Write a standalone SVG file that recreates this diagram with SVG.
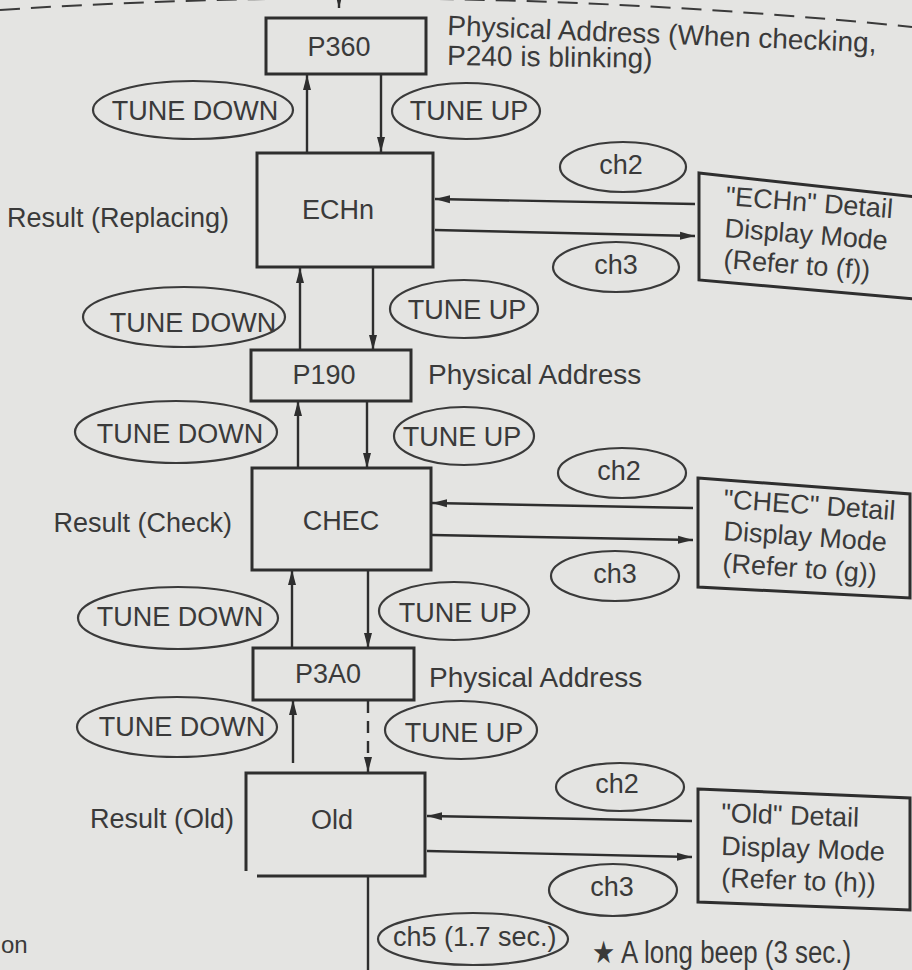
<svg xmlns="http://www.w3.org/2000/svg" width="912" height="970" viewBox="0 0 912 970">
<style>
  .bg{fill:#e4e4e2}
  .box{fill:none;stroke:#2e2e2e;stroke-width:3}
  .ell{fill:none;stroke:#3a3a3a;stroke-width:2.2}
  .ln{fill:none;stroke:#2e2e2e;stroke-width:2.4}
  .t{font-family:"Liberation Sans",Arial,Helvetica,sans-serif;font-size:27px;fill:#3a3a3a}
  .c{text-anchor:middle}
  .e{text-anchor:end}
</style>
<defs>
  <marker id="ah" markerUnits="userSpaceOnUse" markerWidth="16" markerHeight="10" refX="15" refY="5" orient="auto">
    <path d="M0,1 L15,5 L0,9 z" fill="#2e2e2e"/>
  </marker>
</defs>
<rect class="bg" x="0" y="0" width="912" height="970"/>

<!-- top dashed boundary -->
<path d="M0,10 Q450,-20 912,27" fill="none" stroke="#3a3a3a" stroke-width="2" stroke-dasharray="20,11"/>

<g id="connectors">
  <line class="ln" x1="339" y1="-5" x2="339" y2="8" marker-end="url(#ah)"/>
  <!-- P360 / ECHn -->
  <line class="ln" x1="307" y1="153" x2="307" y2="75" marker-end="url(#ah)"/>
  <line class="ln" x1="381" y1="74" x2="381" y2="152" marker-end="url(#ah)"/>
  <!-- ECHn / P190 -->
  <line class="ln" x1="300" y1="350" x2="300" y2="268" marker-end="url(#ah)"/>
  <line class="ln" x1="373" y1="268" x2="373" y2="350" marker-end="url(#ah)"/>
  <!-- P190 / CHEC -->
  <line class="ln" x1="298" y1="468" x2="298" y2="401" marker-end="url(#ah)"/>
  <line class="ln" x1="367" y1="401" x2="367" y2="468" marker-end="url(#ah)"/>
  <!-- CHEC / P3A0 -->
  <line class="ln" x1="292" y1="648" x2="292" y2="570" marker-end="url(#ah)"/>
  <line class="ln" x1="368" y1="570" x2="368" y2="648" marker-end="url(#ah)"/>
  <!-- P3A0 / Old -->
  <line class="ln" x1="293" y1="763" x2="293" y2="700" marker-end="url(#ah)"/>
  <line class="ln" x1="368" y1="701" x2="368" y2="772" stroke-dasharray="12,8" marker-end="url(#ah)"/>
  <!-- Old down -->
  <line class="ln" x1="368" y1="876" x2="368" y2="970"/>
  <!-- detail connectors -->
  <line class="ln" x1="695" y1="204" x2="435" y2="199" marker-end="url(#ah)"/>
  <line class="ln" x1="435" y1="230" x2="695" y2="236" marker-end="url(#ah)"/>
  <line class="ln" x1="693" y1="508" x2="432" y2="503" marker-end="url(#ah)"/>
  <line class="ln" x1="432" y1="535" x2="693" y2="540" marker-end="url(#ah)"/>
  <line class="ln" x1="692" y1="821" x2="427" y2="816" marker-end="url(#ah)"/>
  <line class="ln" x1="427" y1="851" x2="692" y2="857" marker-end="url(#ah)"/>
</g>

<g id="edge-labels">
  <ellipse class="ell" cx="193" cy="110" rx="100" ry="29"/>
  <text class="t c" x="195" y="120">TUNE DOWN</text>
  <ellipse class="ell" cx="466" cy="111" rx="74" ry="28"/>
  <text class="t c" x="469" y="120">TUNE UP</text>

  <ellipse class="ell" cx="623" cy="167" rx="63" ry="25"/>
  <text class="t c" x="621" y="174">ch2</text>
  <ellipse class="ell" cx="616" cy="267" rx="63" ry="25"/>
  <text class="t c" x="616" y="274">ch3</text>

  <ellipse class="ell" cx="184" cy="317" rx="101" ry="30"/>
  <text class="t c" x="193" y="332">TUNE DOWN</text>
  <ellipse class="ell" cx="464" cy="309" rx="74" ry="29"/>
  <text class="t c" x="467" y="319">TUNE UP</text>

  <ellipse class="ell" cx="176" cy="432" rx="101" ry="31"/>
  <text class="t c" x="180" y="443">TUNE DOWN</text>
  <ellipse class="ell" cx="464" cy="436" rx="70" ry="29"/>
  <text class="t c" x="462" y="446">TUNE UP</text>

  <ellipse class="ell" cx="622" cy="473" rx="64" ry="25"/>
  <text class="t c" x="619" y="480">ch2</text>
  <ellipse class="ell" cx="615" cy="576" rx="64" ry="25"/>
  <text class="t c" x="615" y="583">ch3</text>

  <ellipse class="ell" cx="178" cy="618" rx="100" ry="31"/>
  <text class="t c" x="180" y="626">TUNE DOWN</text>
  <ellipse class="ell" cx="454" cy="611" rx="75" ry="29"/>
  <text class="t c" x="458" y="622">TUNE UP</text>

  <ellipse class="ell" cx="177" cy="727" rx="100" ry="30"/>
  <text class="t c" x="182" y="736">TUNE DOWN</text>
  <ellipse class="ell" cx="461" cy="730" rx="76" ry="29"/>
  <text class="t c" x="464" y="742">TUNE UP</text>

  <ellipse class="ell" cx="620" cy="787" rx="64" ry="24"/>
  <text class="t c" x="617" y="793">ch2</text>
  <ellipse class="ell" cx="613" cy="890" rx="64" ry="26"/>
  <text class="t c" x="612" y="896">ch3</text>

  <ellipse class="ell" cx="473" cy="939" rx="95" ry="26"/>
  <text class="t" x="393" y="946">ch5 (1.7 sec.)</text>
</g>

<g id="p360">
  <rect class="box" x="266" y="18" width="160" height="56"/>
  <text class="t c" x="339" y="56">P360</text>
</g>
<g id="echn">
  <rect class="box" x="257" y="153" width="176" height="114"/>
  <text class="t c" x="338" y="219">ECHn</text>
</g>
<g id="p190">
  <rect class="box" x="251" y="350" width="160" height="51"/>
  <text class="t c" x="324" y="384">P190</text>
</g>
<g id="chec">
  <rect class="box" x="252" y="468" width="179" height="102"/>
  <text class="t c" x="341" y="530">CHEC</text>
</g>
<g id="p3a0">
  <rect class="box" x="253" y="648" width="161" height="52"/>
  <text class="t c" x="328" y="683">P3A0</text>
</g>
<g id="old">
  <path class="box" d="M246,871 L246,773 L425,773 L425,876 L257,876"/>
  <text class="t c" x="332" y="829">Old</text>
</g>

<g id="echn-detail">
  <polygon class="box" points="699,173 916,197 916,299 699,280"/>
  <text class="t" x="725" y="205" transform="rotate(4.5 725 205)">"ECHn" Detail</text>
  <text class="t" x="724" y="237" transform="rotate(4.5 724 237)">Display Mode</text>
  <text class="t" x="723" y="268" transform="rotate(4.5 723 268)">(Refer to (f))</text>
</g>
<g id="chec-detail">
  <polygon class="box" points="698,478 910,494 910,598 698,587"/>
  <text class="t" x="723" y="508" transform="rotate(4 723 508)">"CHEC" Detail</text>
  <text class="t" x="723" y="540" transform="rotate(4 723 540)">Display Mode</text>
  <text class="t" x="722" y="572" transform="rotate(4 722 572)">(Refer to (g))</text>
</g>
<g id="old-detail">
  <polygon class="box" points="698,789 910,798 910,910 698,902"/>
  <text class="t" x="721" y="822" transform="rotate(2 721 822)">"Old" Detail</text>
  <text class="t" x="721" y="855" transform="rotate(2 721 855)">Display Mode</text>
  <text class="t" x="721" y="887" transform="rotate(2 721 887)">(Refer to (h))</text>
</g>

<g id="annotations">
  <text class="t" x="447" y="35" style="font-size:28px" transform="rotate(2.3 447 35)">Physical Address (When checking,</text>
  <text class="t" x="447" y="65" style="font-size:28px" transform="rotate(0.8 447 65)">P240 is blinking)</text>
  <text class="t e" x="229" y="227">Result (Replacing)</text>
  <text class="t" x="428" y="384" style="font-size:28px">Physical Address</text>
  <text class="t e" x="232" y="532">Result (Check)</text>
  <text class="t" x="429" y="687" style="font-size:28px">Physical Address</text>
  <text class="t e" x="234" y="828">Result (Old)</text>
  <text class="t" x="592" y="963" style="font-size:31px" textLength="259" lengthAdjust="spacingAndGlyphs">★ A long beep (3 sec.)</text>
  <text class="t" x="1" y="953" style="font-size:24px">on</text>
</g>
</svg>
